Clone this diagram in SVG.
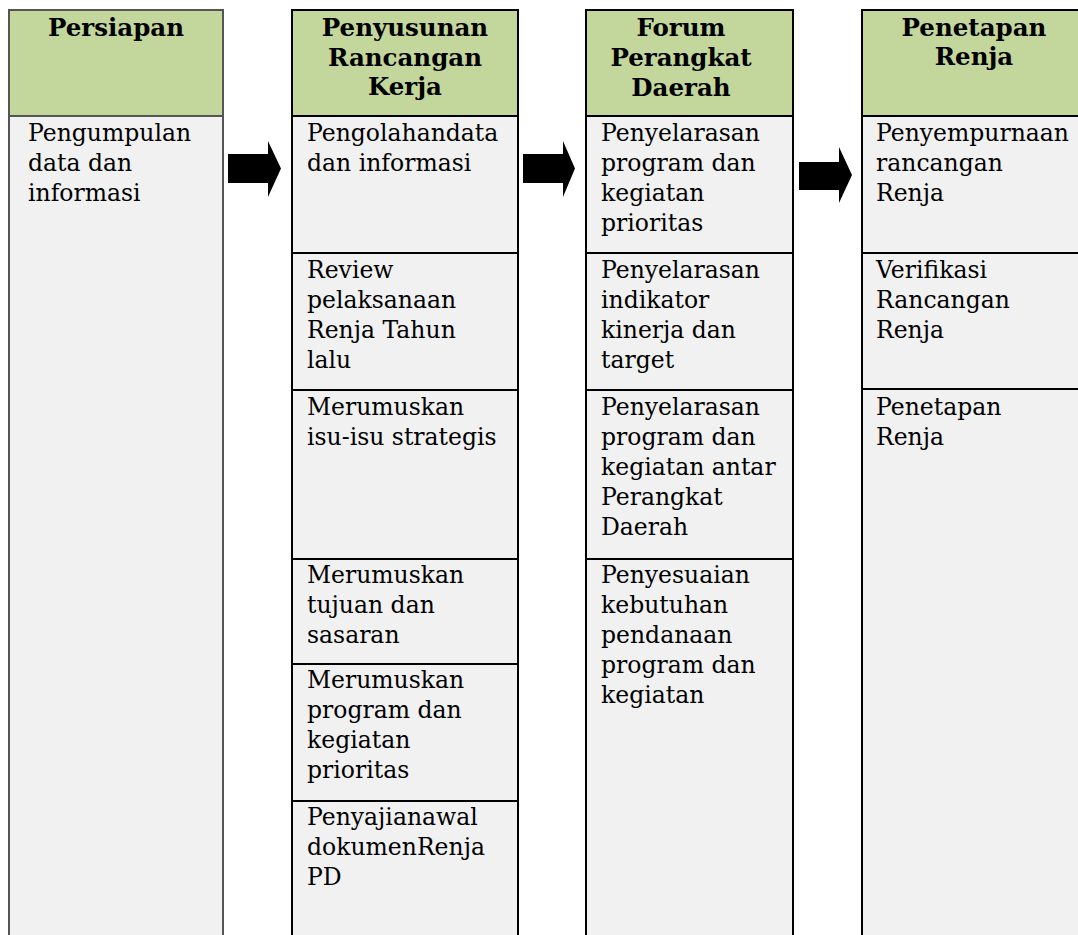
<svg xmlns="http://www.w3.org/2000/svg" width="1078" height="935" viewBox="0 0 1078 935">
<style>
.hd{fill:#C3D69B}
.bd{fill:#F1F1F1}
.ln{stroke:#000;stroke-width:2;fill:none}
.ln1{stroke:#555;stroke-width:2;fill:none}
.h{font-family:"DejaVu Serif","Liberation Serif",serif;font-weight:bold;font-size:24.5px;fill:#000;text-anchor:middle}
.t{font-family:"DejaVu Serif","Liberation Serif",serif;font-size:23.5px;fill:#000}
.ar{fill:#000}
</style>
<rect width="1078" height="935" fill="#fff"/>

<g id="col-persiapan">
<rect class="hd" x="9" y="10" width="214" height="106"/>
<rect class="bd" x="9" y="116" width="214" height="830"/>
<path class="ln1" d="M9,945 V10 H223 V945 M9,116 H223"/>
<text class="h" x="116" y="36">Persiapan</text>
<text class="t" x="28"><tspan x="28" y="141">Pengumpulan</tspan><tspan x="28" y="171">data dan</tspan><tspan x="28" y="201">informasi</tspan></text>
</g>

<g id="col-penyusunan">
<rect class="hd" x="292" y="10" width="226" height="106"/>
<rect class="bd" x="292" y="116" width="226" height="830"/>
<path class="ln" d="M292,945 V10 H518 V945 M292,116 H518 M292,253 H518 M292,390 H518 M292,559 H518 M292,664 H518 M292,801 H518"/>
<text class="h"><tspan x="405" y="36">Penyusunan</tspan><tspan x="405" y="66">Rancangan</tspan><tspan x="405" y="95">Kerja</tspan></text>
<text class="t"><tspan x="307" y="141">Pengolahandata</tspan><tspan x="307" y="171">dan informasi</tspan></text>
<text class="t"><tspan x="307" y="278">Review</tspan><tspan x="307" y="308">pelaksanaan</tspan><tspan x="307" y="338">Renja Tahun</tspan><tspan x="307" y="368">lalu</tspan></text>
<text class="t"><tspan x="307" y="415">Merumuskan</tspan><tspan x="307" y="445">isu-isu strategis</tspan></text>
<text class="t"><tspan x="307" y="583">Merumuskan</tspan><tspan x="307" y="613">tujuan dan</tspan><tspan x="307" y="643">sasaran</tspan></text>
<text class="t"><tspan x="307" y="688">Merumuskan</tspan><tspan x="307" y="718">program dan</tspan><tspan x="307" y="748">kegiatan</tspan><tspan x="307" y="778">prioritas</tspan></text>
<text class="t"><tspan x="307" y="825">Penyajianawal</tspan><tspan x="307" y="855">dokumenRenja</tspan><tspan x="307" y="885">PD</tspan></text>
</g>

<g id="col-forum">
<rect class="hd" x="586" y="10" width="207" height="106"/>
<rect class="bd" x="586" y="116" width="207" height="830"/>
<path class="ln" d="M586,945 V10 H793 V945 M586,116 H793 M586,253 H793 M586,390 H793 M586,559 H793"/>
<text class="h"><tspan x="681" y="36">Forum</tspan><tspan x="681" y="66">Perangkat</tspan><tspan x="681" y="96">Daerah</tspan></text>
<text class="t"><tspan x="601" y="141">Penyelarasan</tspan><tspan x="601" y="171">program dan</tspan><tspan x="601" y="201">kegiatan</tspan><tspan x="601" y="231">prioritas</tspan></text>
<text class="t"><tspan x="601" y="278">Penyelarasan</tspan><tspan x="601" y="308">indikator</tspan><tspan x="601" y="338">kinerja dan</tspan><tspan x="601" y="368">target</tspan></text>
<text class="t"><tspan x="601" y="415">Penyelarasan</tspan><tspan x="601" y="445">program dan</tspan><tspan x="601" y="475">kegiatan antar</tspan><tspan x="601" y="505">Perangkat</tspan><tspan x="601" y="535">Daerah</tspan></text>
<text class="t"><tspan x="601" y="583">Penyesuaian</tspan><tspan x="601" y="613">kebutuhan</tspan><tspan x="601" y="643">pendanaan</tspan><tspan x="601" y="673">program dan</tspan><tspan x="601" y="703">kegiatan</tspan></text>
</g>

<g id="col-penetapan">
<rect class="hd" x="862" y="10" width="230" height="106"/>
<rect class="bd" x="862" y="116" width="230" height="830"/>
<path class="ln" d="M862,945 V10 H1090 M862,116 H1090 M862,253 H1090 M862,389 H1090"/>
<text class="h"><tspan x="974" y="36">Penetapan</tspan><tspan x="974" y="65">Renja</tspan></text>
<text class="t"><tspan x="876" y="141">Penyempurnaan</tspan><tspan x="876" y="171">rancangan</tspan><tspan x="876" y="201">Renja</tspan></text>
<text class="t"><tspan x="876" y="278">Verifikasi</tspan><tspan x="876" y="308">Rancangan</tspan><tspan x="876" y="338">Renja</tspan></text>
<text class="t"><tspan x="876" y="415">Penetapan</tspan><tspan x="876" y="445">Renja</tspan></text>
</g>

<g id="connectors">
<polygon class="ar" points="228,154 268,154 268,141 281,168.5 268,197 268,183 228,183"/>
<polygon class="ar" points="523,154 563,154 563,141 575,168.5 563,197 563,183 523,183"/>
<polygon class="ar" points="799,162 839,162 839,147 852,175 839,203 839,190 799,190"/>
</g>
</svg>
